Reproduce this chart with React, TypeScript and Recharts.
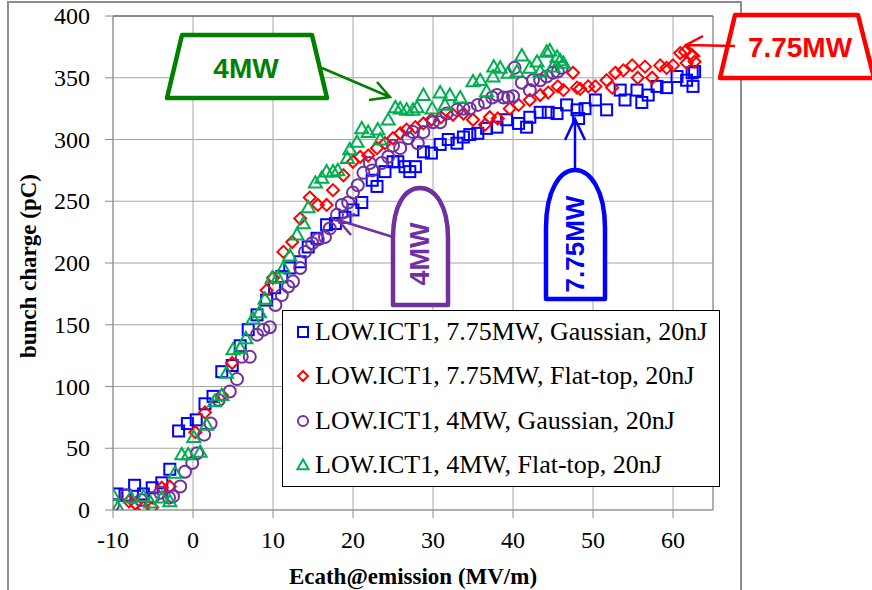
import { ScatterChart, Scatter, XAxis, YAxis, CartesianGrid, ReferenceLine } from 'recharts';

// Ecath@emission (MV/m) vs bunch charge (pC)
const gauss775 = [
  [-9.5, 13], [-8.5, 12], [-7.3, 20], [-6.2, 13], [-5.1, 18], [-3.9, 22], [-2.9, 33], [-1.8, 64],
  [-0.7, 70], [0.4, 73], [1.5, 86], [2.5, 92], [3.6, 112], [4.9, 117], [5.9, 133], [6.9, 146],
  [8, 158], [9.2, 170], [10.2, 180], [11.1, 189], [12.1, 196], [13.4, 201], [14.4, 213], [15.5, 220],
  [16.7, 231], [17.8, 232], [19, 237], [20, 243], [21.1, 249], [22.4, 267], [23, 262], [24, 274],
  [25, 282], [25.6, 282], [26.5, 278], [27.1, 274], [27.8, 278], [28.8, 290], [29.8, 289], [30.9, 296],
  [31.9, 300], [33, 297], [33.8, 302], [34.6, 304], [35.6, 305], [36.7, 309], [38, 310], [39.2, 316],
  [40.7, 313], [41.7, 310], [42.1, 318], [43.4, 322], [44.4, 322], [45.5, 321], [46.7, 328], [48, 324],
  [48.2, 317], [49, 325], [50.3, 332], [51.7, 324], [53.4, 340], [54, 332], [55.5, 340], [56.1, 330],
  [56.9, 336], [58, 343], [59.2, 342], [60.5, 351], [61.7, 348], [62.4, 354], [62.5, 343], [62.7, 355],
];
const flat775 = [
  [-8, 7], [-7.2, 5], [-6.2, 2], [-5.1, 2], [-3.9, 18], [-2.9, 19], [0.3, 63], [1.5, 79], [3.6, 93],
  [4.9, 119], [9.2, 178], [10, 188], [11.3, 209], [12.4, 217], [13.4, 236], [14.6, 253], [15.6, 247],
  [16.7, 247], [17.5, 259], [18.8, 271], [20, 282], [20.9, 286], [21.9, 287], [23, 293], [24, 297],
  [25, 301], [25.9, 305], [26.7, 308], [27.8, 310], [28.8, 313], [29.8, 316], [31, 318], [32.5, 320],
  [33.8, 321], [35, 316], [36.5, 312], [37.1, 318], [38.1, 317], [39.6, 325], [40.7, 328], [42.1, 332],
  [43.4, 336], [44.4, 338], [45.6, 343], [46.3, 340], [47.5, 354], [48, 342], [48.4, 341], [49.4, 343],
  [50.3, 343], [51.7, 348], [52.4, 342], [52.8, 354], [53.8, 356], [54.9, 360], [55.6, 350], [56.5, 359],
  [57.4, 350], [58.4, 360], [59.2, 358], [60, 360], [60.9, 370], [61.5, 371], [61.7, 362], [62.4, 368],
  [62.7, 363],
];
const gauss4 = [
  [-10, 4], [-8.3, 12], [-6.5, 8], [-5, 10], [-4.1, 14], [-3, 10], [-2.5, 11], [-1.6, 19], [-1, 31],
  [-0.1, 38], [0.5, 46], [1.4, 61], [2.2, 70], [3.2, 89], [4.6, 96], [5.5, 106], [6.1, 124], [7.1, 124],
  [8, 142], [8.8, 146], [9.6, 148], [10.3, 166], [11.1, 174], [11.9, 181], [12.5, 185], [13.4, 196],
  [14, 209], [14.9, 216], [15.6, 219], [16.5, 221], [17.1, 228], [18, 239], [18.6, 247], [19.4, 249],
  [20, 257], [20.6, 263], [21.3, 273], [22.1, 281], [22.4, 275], [23.6, 281], [24.4, 286], [25, 295],
  [25.9, 293], [26.9, 301], [27.5, 306], [28.1, 297], [28.8, 306], [30, 314], [30.9, 314], [31.7, 321],
  [33, 324], [33.8, 325], [34.6, 325], [35.6, 328], [36.5, 330], [37.4, 334], [38, 336], [38.8, 334],
  [39.4, 334], [40, 335], [40.2, 358], [41.1, 346], [42.1, 340], [42.5, 348], [43.4, 348], [44.2, 351],
  [45, 354], [45.6, 355], [46.1, 358],
];
const flat4 = [
  [-10, 12], [-9.4, 2], [-7.8, 10], [-6.2, 11], [-5.3, 6], [-3.9, 10], [-2.9, 7], [-2.25, 30],
  [-1.4, 45], [-0.6, 45], [0.1, 59], [0.9, 47], [1.7, 69], [2.7, 88], [3.6, 93], [4.2, 111], [5, 130],
  [5.9, 131], [6.6, 139], [7.5, 155], [8.3, 160], [9, 171], [9.9, 188], [10.6, 188], [11.3, 196],
  [12.1, 206], [13, 223], [13.8, 232], [14.4, 245], [15.3, 265], [16.1, 269], [16.7, 274], [17.5, 274],
  [18.1, 275], [19.3, 285], [19.6, 292], [20.5, 298], [21.1, 309], [21.9, 306], [23.1, 308], [23.4, 300],
  [24.4, 316], [25.3, 326], [25.9, 325], [26.7, 324], [27.5, 324], [28, 326], [28.8, 336], [29.9, 325],
  [30.9, 338], [31.5, 328], [32.1, 336], [33.4, 334], [35, 347], [35.9, 348], [36.7, 339], [37.5, 351],
  [37.6, 359], [38.4, 358], [39.4, 354], [40.5, 355], [41.1, 368], [42.1, 358], [43, 363], [43.4, 355],
  [44.2, 371], [44.6, 372], [45, 359], [45.5, 367], [45.9, 364], [46.3, 362],
];

const xTicks = [-10, 0, 10, 20, 30, 40, 50, 60];
const yTicks = [0, 50, 100, 150, 200, 250, 300, 350, 400];
const seriesNames = [
  'LOW.ICT1, 7.75MW, Gaussian, 20nJ',
  'LOW.ICT1, 7.75MW, Flat-top, 20nJ',
  'LOW.ICT1, 4MW, Gaussian, 20nJ',
  'LOW.ICT1, 4MW, Flat-top, 20nJ',
];

const BLUE = '#0000FF';
const RED = '#FF0000';
const PURPLE = '#7030A0';
const GREEN = '#00B050';
const serif = 'Liberation Serif, Times New Roman, serif';
const sans = 'Liberation Sans, Arial, sans-serif';

const toPts = (arr: number[][]) => arr.map(([x, y]) => ({ x, y }));

const Square = ({ cx, cy, s = 5.5 }: any) => (
  <rect x={cx - s} y={cy - s} width={s * 2} height={s * 2} fill="none" stroke={BLUE} strokeWidth={2} />
);
const Diamond = ({ cx, cy, s = 6 }: any) => (
  <path d={`M${cx},${cy - s}L${cx + s},${cy}L${cx},${cy + s}L${cx - s},${cy}Z`} fill="none" stroke={RED} strokeWidth={2} />
);
const Circle = ({ cx, cy, s = 6 }: any) => (
  <circle cx={cx} cy={cy} r={s} fill="none" stroke={PURPLE} strokeWidth={2} />
);
const Triangle = ({ cx, cy, s = 6.5 }: any) => (
  <path d={`M${cx},${cy - s}L${cx + s},${cy + s * 0.75}L${cx - s},${cy + s * 0.75}Z`} fill="none" stroke={GREEN} strokeWidth={2} />
);

const legendShapes = [Square, Diamond, Circle, Triangle];

const renderXTick = (p: any) => (
  <text key={p.index} x={p.x} y={p.y + 16} textAnchor="middle" style={{ fontFamily: serif, fontSize: 24 }} fill="#000">{p.payload.value}</text>
);
const renderYTick = (p: any) => (
  <text key={p.index} x={p.x} y={p.y + 8} textAnchor="end" style={{ fontFamily: serif, fontSize: 24 }} fill="#000">{p.payload.value}</text>
);

export default function App() {
  return (
    <div style={{ position: 'absolute', left: 0, top: 0, width: 872, height: 590, overflow: 'hidden', background: '#fff', fontFamily: serif }}>
      <div style={{ position: 'absolute', left: 7, top: 1, width: 731, height: 640, border: '2px solid #8c8c8c' }} />
      <div style={{ position: 'absolute', left: 0, top: 0 }}>
        <ScatterChart width={872} height={590} margin={{ top: 16, right: 159, bottom: 50, left: 53 }} style={{ fontFamily: serif }}>
          <CartesianGrid stroke="#a6a6a6" strokeWidth={1} />
          <XAxis
            type="number" dataKey="x" domain={[-10, 65]} ticks={xTicks} allowDataOverflow
            height={30} tickSize={8} tickMargin={14} stroke="#8c8c8c" tick={renderXTick}
          />
          <YAxis
            type="number" dataKey="y" domain={[0, 400]} ticks={yTicks} allowDataOverflow
            width={60} tickSize={8} tickMargin={15} stroke="#8c8c8c" tick={renderYTick}
          />
          <ReferenceLine x={65} stroke="#8c8c8c" />
          <ReferenceLine y={400} stroke="#404040" />
          <Scatter data={toPts(gauss775)} shape={(p: any) => <Square {...p} />} isAnimationActive={false} />
          <Scatter data={toPts(flat775)} shape={(p: any) => <Diamond {...p} />} isAnimationActive={false} />
          <Scatter data={toPts(gauss4)} shape={(p: any) => <Circle {...p} />} isAnimationActive={false} />
          <Scatter data={toPts(flat4)} shape={(p: any) => <Triangle {...p} />} isAnimationActive={false} />
        </ScatterChart>
      </div>

      {/* legend */}
      <div style={{ position: 'absolute', left: 282, top: 310, width: 436, height: 175, border: '1px solid #000', background: '#fff' }}>
        {seriesNames.map((name, i) => {
          const Shape = legendShapes[i];
          return (
            <div key={i} style={{ position: 'absolute', left: 0, top: 1 + i * 44.3, height: 40, display: 'flex', alignItems: 'center' }}>
              <svg width={32} height={20} style={{ flex: 'none' }}>
                <Shape cx={20} cy={10} s={i === 3 ? 5.5 : 5} />
              </svg>
              <span style={{ fontFamily: serif, fontSize: 26, color: '#000', whiteSpace: 'nowrap' }}>{name}</span>
            </div>
          );
        })}
      </div>

      {/* axis titles and annotations */}
      <svg width={872} height={590} style={{ position: 'absolute', left: 0, top: 0, pointerEvents: 'none' }}>
        <text x={413} y={584} textAnchor="middle" fontFamily={serif} fontWeight="bold" fontSize={23}>Ecath@emission (MV/m)</text>
        <text transform="translate(36,266) rotate(-90)" textAnchor="middle" fontFamily={serif} fontWeight="bold" fontSize={23}>bunch charge (pC)</text>

        {/* green 4MW */}
        <path d="M182,35 L312,35 L327,98 L167,98 Z" fill="#fff" stroke="#008000" strokeWidth={4.5} strokeLinejoin="round" />
        <text x={246} y={78} textAnchor="middle" fontFamily={sans} fontWeight="bold" fontSize={28} fill="#008000">4MW</text>
        <path d="M322,68 L390,97 M377,82 L390,97 L369,100" fill="none" stroke="#008000" strokeWidth={2.5} />

        {/* red 7.75MW */}
        <path d="M735,15 L858,15 L874,78 L720,78 Z" fill="#fff" stroke={RED} strokeWidth={4.5} strokeLinejoin="round" />
        <text x={800} y={57} textAnchor="middle" fontFamily={sans} fontWeight="bold" fontSize={28} fill={RED}>7.75MW</text>
        <path d="M735,46 L686,45 M703,36 L686,45 L700,57" fill="none" stroke={RED} strokeWidth={2.5} />

        {/* blue 7.75MW */}
        <path d="M546,299 L546,228 C546,190 560,170 575,170 C590,170 605,190 605,228 L605,299 Z" fill="#fff" stroke={BLUE} strokeWidth={4.5} strokeLinejoin="round" />
        <text transform="translate(584,244) rotate(-90)" textAnchor="middle" fontFamily={sans} fontWeight="bold" fontSize={26} fill={BLUE}>7.75MW</text>
        <path d="M575,170 L575,119 M565,140 L575,119 L585,140" fill="none" stroke={BLUE} strokeWidth={2.5} />

        {/* purple 4MW */}
        <path d="M393,305 L393,238 C393,205 405,188 420,188 C435,188 448,205 448,238 L448,305 Z" fill="#fff" stroke={PURPLE} strokeWidth={4.5} strokeLinejoin="round" />
        <text transform="translate(429,254) rotate(-90)" textAnchor="middle" fontFamily={sans} fontWeight="bold" fontSize={27} fill={PURPLE}>4MW</text>
        <path d="M393,237 L338,220 M355,214 L338,220 L351,235" fill="none" stroke={PURPLE} strokeWidth={2.5} />
      </svg>
    </div>
  );
}
